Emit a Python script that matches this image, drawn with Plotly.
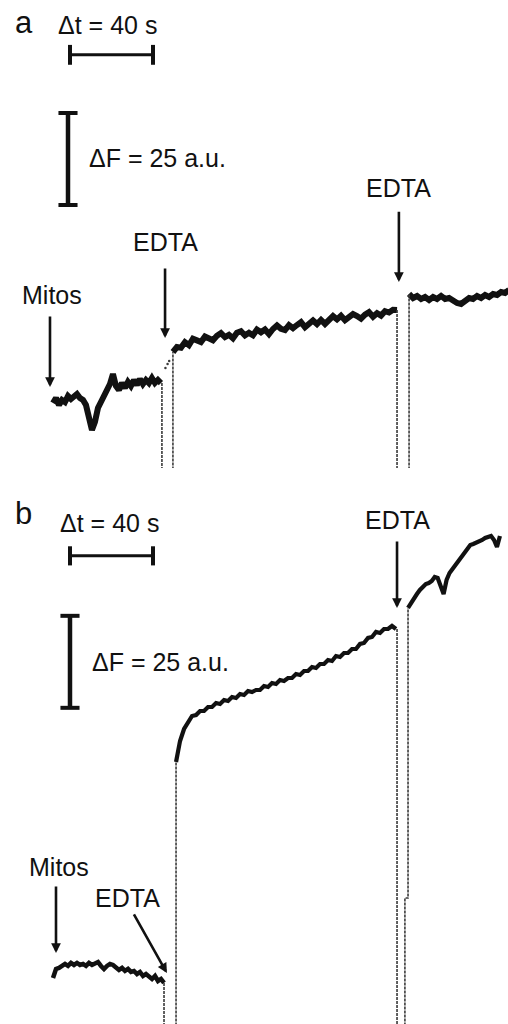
import numpy as np
import plotly.graph_objects as go

# ---------------- data (time in s, fluorescence change in a.u.) ----------------
# Panel a
a_seg1_t = (0.0, 52.0)
a_seg1_F = [0, 1.36, -0.54, 0.82, 0.27, 1.9, 1.09, 1.63, 2.45, 1.36, 0.82, -0.54, -3.53, -7.34,
            -5.16, -1.36, 0.27, 1.63, 3.53, 5.16, 7.88, 4.62, 3.53, 5.43, 4.08, 5.71, 4.62, 6.25,
            4.89, 6.52, 5.16, 6.25, 5.43, 6.79, 5.43, 6.25, 5.43]
a_gap_t = [54.2, 55.2, 56.0]          # isolated samples recorded during the first EDTA addition
a_gap_F = [9.5, 10.6, 11.4]
a_seg2_t = (57.8, 165.8)
a_seg2_F = [13.86, 15.19, 15.00, 16.53, 15.70, 17.45, 17.02, 16.57, 18.04, 17.71,
            17.04, 18.25, 18.99, 17.90, 18.53, 17.57, 19.08, 19.51, 18.35, 19.06,
            18.39, 19.96, 19.22, 19.98, 18.75, 20.11, 21.07, 20.14, 19.80, 21.16,
            20.33, 21.19, 21.98, 20.60, 21.61, 22.43, 21.45, 22.57, 21.48, 22.80,
            23.62, 22.73, 23.72, 22.51, 23.39, 24.17, 23.62, 22.91, 23.99, 24.67,
            23.45, 24.41, 23.74, 24.94, 24.59, 25.32, 25.27]
a_seg3_t = (171.6, 219.8)
a_seg3_F = [29.62, 28.53, 29.08, 28.26, 28.80, 27.99, 28.80, 28.26, 29.08, 28.26, 28.53, 27.72,
            27.17, 26.90, 27.99, 28.53, 28.26, 29.08, 28.53, 29.35, 28.80, 29.62, 29.35, 30.16,
            29.89, 30.71]
a_spike_down_t = [52.5, 165.8]

# Panel b
b_seg1_t = (0.0, 53.5)
b_seg1_F = [-0.82, 1.63, 1.90, 2.45, 2.99, 2.45, 3.26, 2.72, 3.26, 2.72, 2.99, 2.45, 3.26, 2.72,
            2.99, 3.53, 2.45, 1.63, 2.45, 2.99, 2.72, 1.90, 1.36, 1.90, 1.09, 1.63, 0.82, 1.09,
            0.27, 0.82, -0.27, 0.27, -0.54, -1.09, -0.27, -1.63, -1.09, -2.17]
b_seg2_t = (59.3, 165.3)
b_seg2_F = [57.88, 63.59, 66.85, 68.48, 70.38, 70.65, 71.74, 71.74, 72.83, 72.83, 73.91, 73.64,
            74.73, 74.46, 75.54, 75.27, 76.36, 76.09, 77.17, 76.90, 77.45, 77.45, 78.53, 78.26,
            79.35, 79.08, 80.16, 79.89, 80.71, 80.71, 81.79, 81.52, 82.61, 82.61, 83.70, 83.42,
            84.51, 84.51, 85.60, 85.33, 86.68, 86.41, 87.50, 87.50, 88.59, 88.59, 89.95, 90.22,
            91.58, 91.85, 93.21, 92.93, 94.02, 94.02, 94.84, 94.02]
b_seg3_t = (171.1, 215.4)
b_seg3_F = [99.73, 101.09, 102.17, 103.53, 104.62, 105.43, 106.25, 106.52, 107.07, 108.15, 107.88,
            105.71, 103.53, 107.34, 109.24, 110.33, 111.41, 112.50, 113.86, 114.95, 116.03, 116.85,
            117.12, 117.39, 117.93, 118.21, 118.75, 119.02, 119.29, 118.21, 116.30, 119.29]
b_spike_down_t = [53.5, 165.8]
b_kink_t = 169.6      # lower part of the second spike in panel b
b_kink_F = 20.9

OFF_SCALE = -80.0     # signal leaves recorder range during additions

# scale bars
BAR_T = 40   # s
BAR_F = 25   # a.u.

# ---------------- figure ----------------
W, H = 508, 1024
X_RANGE = [-25.54, 219.28]
YA_RANGE = [-17.66, 109.5]
YB_RANGE = [-13.32, 134.51]

TRACE = "#111111"
SPIKE = "#3a3a3a"
FONT = "Liberation Sans, Arial, sans-serif"

fig = go.Figure()


def seg(t_span, vals, xa, ya, width):
    t = np.linspace(t_span[0], t_span[1], len(vals))
    fig.add_trace(go.Scatter(x=t, y=vals, mode="lines", xaxis=xa, yaxis=ya,
                             line=dict(color=TRACE, width=width, shape="linear"),
                             hoverinfo="skip", showlegend=False))


def spike(t_vals, f_vals, xa, ya):
    fig.add_trace(go.Scatter(x=t_vals, y=f_vals, mode="lines", xaxis=xa, yaxis=ya,
                             line=dict(color=SPIKE, width=1.6, dash="3px,1px"),
                             hoverinfo="skip", showlegend=False))


# panel a
seg(a_seg1_t, a_seg1_F, "x", "y", 6)
seg(a_seg2_t, a_seg2_F, "x", "y", 6)
seg(a_seg3_t, a_seg3_F, "x", "y", 6)
fig.add_trace(go.Scatter(x=a_gap_t, y=a_gap_F, mode="markers", xaxis="x", yaxis="y",
                         marker=dict(color=SPIKE, size=2.5), hoverinfo="skip", showlegend=False))
spike([a_spike_down_t[0]] * 2, [a_seg1_F[-1], OFF_SCALE], "x", "y")
spike([a_seg2_t[0]] * 2, [OFF_SCALE, a_seg2_F[0]], "x", "y")
spike([a_spike_down_t[1]] * 2, [a_seg2_F[-1], OFF_SCALE], "x", "y")
spike([a_seg3_t[0]] * 2, [OFF_SCALE, a_seg3_F[0]], "x", "y")

# panel b
seg(b_seg1_t, b_seg1_F, "x2", "y2", 4.5)
seg(b_seg2_t, b_seg2_F, "x2", "y2", 4.2)
seg(b_seg3_t, b_seg3_F, "x2", "y2", 4.2)
spike([b_spike_down_t[0]] * 2, [b_seg1_F[-1], OFF_SCALE], "x2", "y2")
spike([b_seg2_t[0]] * 2, [OFF_SCALE, b_seg2_F[0]], "x2", "y2")
spike([b_spike_down_t[1]] * 2, [b_seg2_F[-1], OFF_SCALE], "x2", "y2")
spike([b_kink_t, b_kink_t, b_seg3_t[0], b_seg3_t[0]],
      [OFF_SCALE, b_kink_F, b_kink_F, b_seg3_F[0]], "x2", "y2")

# scale bars
shapes = []


def hbar(t0, f, xr, yr, cap_h):
    shapes.append(dict(type="line", xref=xr, yref=yr, x0=t0, x1=t0 + BAR_T, y0=f, y1=f,
                       line=dict(color=TRACE, width=3)))
    for tt in (t0, t0 + BAR_T):
        shapes.append(dict(type="line", xref=xr, yref=yr, x0=tt, x1=tt, y0=f - cap_h, y1=f + cap_h,
                           line=dict(color=TRACE, width=4)))


def vbar(t, f0, xr, yr, cap_w):
    shapes.append(dict(type="line", xref=xr, yref=yr, x0=t, x1=t, y0=f0, y1=f0 + BAR_F,
                       line=dict(color=TRACE, width=4.5)))
    for ff in (f0, f0 + BAR_F):
        shapes.append(dict(type="line", xref=xr, yref=yr, x0=t - cap_w, x1=t + cap_w, y0=ff, y1=ff,
                           line=dict(color=TRACE, width=4)))


hbar(8.19, 94.6, "x", "y", 2.7)
vbar(7.23, 53.8, "x", "y", 4.6)
hbar(8.19, 113.9, "x2", "y2", 2.6)
vbar(8.19, 72.6, "x2", "y2", 4.6)

ann = []


def text(t, f, s, xr, yr, size=25, xanchor="center"):
    ann.append(dict(x=t, y=f, xref=xr, yref=yr, text=s, showarrow=False, xanchor=xanchor,
                    yanchor="middle", font=dict(family=FONT, size=size, color=TRACE)))


def arrow(t_tip, f_tip, t_tail, f_tail, xr, yr):
    ann.append(dict(x=t_tip, y=f_tip, ax=t_tail, ay=f_tail, xref=xr, yref=yr, axref=xr, ayref=yr,
                    text="", showarrow=True, arrowhead=2, arrowsize=0.75, arrowwidth=2.6,
                    arrowcolor=TRACE, standoff=0, startstandoff=0))


# panel a labels
text(-13.98, 103.5, "a", "x", "y", size=31)
text(26.5, 102.7, "Δt = 40 s", "x", "y")
text(16.4, 66.6, "ΔF = 25 a.u.", "x", "y", xanchor="left")
text(-0.5, 29.3, "Mitos", "x", "y")
arrow(-1.45, 4.35, -1.45, 23.9, "x", "y")
text(54.0, 43.75, "EDTA", "x", "y")
arrow(54.0, 17.66, 54.0, 36.96, "x", "y")
text(166.7, 58.4, "EDTA", "x", "y")
arrow(166.7, 32.9, 166.7, 52.4, "x", "y")

# panel b labels
text(-14.0, 125.5, "b", "x2", "y2", size=31)
text(27.0, 122.8, "Δt = 40 s", "x2", "y2")
text(17.8, 85.05, "ΔF = 25 a.u.", "x2", "y2", xanchor="left")
text(2.9, 29.35, "Mitos", "x2", "y2")
arrow(1.45, 5.98, 1.45, 24.46, "x2", "y2")
text(36.1, 20.9, "EDTA", "x2", "y2")
arrow(54.9, 0.54, 38.6, 16.85, "x2", "y2")
text(165.8, 123.6, "EDTA", "x2", "y2")
arrow(165.8, 99.7, 165.8, 118.2, "x2", "y2")

hidden = dict(visible=False, showgrid=False, zeroline=False, fixedrange=True)
fig.update_layout(
    width=W, height=H, margin=dict(l=0, r=0, t=0, b=0),
    paper_bgcolor="white", plot_bgcolor="white", showlegend=False,
    xaxis=dict(hidden, range=X_RANGE, domain=[0, 1], anchor="y"),
    yaxis=dict(hidden, range=YA_RANGE, domain=[1 - 468 / 1024, 1], anchor="x"),
    xaxis2=dict(hidden, range=X_RANGE, domain=[0, 1], anchor="y2"),
    yaxis2=dict(hidden, range=YB_RANGE, domain=[0, 1 - 480 / 1024], anchor="x2"),
    shapes=shapes, annotations=ann,
)

fig.write_html("out.html", config={"displayModeBar": False},
               post_script="document.body.style.margin='0px';document.body.style.overflow='hidden';")
